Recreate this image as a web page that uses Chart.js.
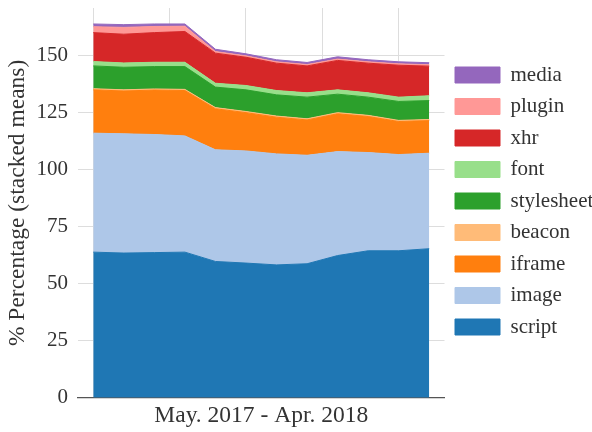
<!DOCTYPE html>
<html>
<head>
<meta charset="utf-8">
<script src="https://cdn.jsdelivr.net/npm/chart.js"></script>
<style>
  body { margin: 0; background: #fff; }
  #wrap { width: 592px; height: 432px; }
</style>
</head>
<body>
<div id="wrap"><canvas id="share_chart" width="592" height="432"></canvas></div>
<script>
// months, May 2017 - Apr 2018
var months = ['May 2017','Jun 2017','Jul 2017','Aug 2017','Sep 2017','Oct 2017',
              'Nov 2017','Dec 2017','Jan 2018','Feb 2018','Mar 2018','Apr 2018'];

// stacked means per resource type (%)
var script     = [63.9, 63.5, 63.7, 63.9, 59.8, 59.1, 58.3, 58.8, 62.4, 64.5, 64.5, 65.4];
var image      = [52.2, 52.3, 51.8, 51.0, 49.0, 49.2, 48.7, 47.6, 45.6, 43.1, 42.2, 41.9];
var iframe     = [19.0, 18.8, 19.5, 19.9, 18.0, 16.8, 16.1, 15.5, 16.6, 15.8, 14.5, 14.3];
var beacon     = [0.5, 0.5, 0.5, 0.5, 0.5, 0.5, 0.5, 0.5, 0.5, 0.5, 0.5, 0.5];
var stylesheet = [10.0, 9.9, 9.8, 10.0, 9.0, 9.5, 9.3, 9.5, 8.1, 8.0, 8.3, 8.3];
var font       = [1.9, 1.9, 1.9, 1.9, 1.7, 1.9, 1.9, 1.9, 1.9, 1.9, 1.9, 2.1];
var xhr        = [12.7, 12.6, 13.0, 13.5, 13.2, 12.4, 12.0, 11.8, 12.9, 13.0, 14.0, 13.0];
var plugin     = [2.6, 3.0, 2.7, 2.3, 0.7, 0.6, 0.6, 0.6, 0.6, 0.6, 0.6, 0.6];
var media      = [1.2, 1.2, 1.1, 1.0, 1.0, 0.9, 0.9, 0.9, 1.0, 0.9, 0.9, 0.9];

var yTicks = [0, 25, 50, 75, 100, 125, 150];
var xGrid  = [0, 2.5, 5, 7.5, 10];

var series = [
    ['script', script, '#1f77b4'],
    ['image', image, '#aec7e8'],
    ['iframe', iframe, '#ff7f0e'],
    ['beacon', beacon, '#ffbb78'],
    ['stylesheet', stylesheet, '#2ca02c'],
    ['font', font, '#98df8a'],
    ['xhr', xhr, '#d62728'],
    ['plugin', plugin, '#ff9896'],
    ['media', media, '#9467bd']
];

var serif = "'Liberation Serif', 'Times New Roman', serif";

var datasets = series.map(function (s, k) {
    return {
        label: s[0],
        data: s[1].map(function (v, i) { return {x: i, y: v}; }),
        backgroundColor: s[2],
        borderColor: s[2],
        borderWidth: 1,
        pointRadius: 0,
        tension: 0,
        fill: k == 0 ? 'origin' : '-1'
    };
});

var ctx = document.getElementById('share_chart').getContext('2d');
var shareChart = new Chart(ctx, {
    type: 'line',
    data: { datasets: datasets },
    options: {
        responsive: false,
        animation: false,
        layout: { padding: { left: 2, top: 8, right: 0, bottom: 0 } },
        plugins: {
            tooltip: { enabled: false },
            legend: {
                position: 'right',
                align: 'start',
                reverse: true,
                title: { display: true, text: ' ', font: { size: 10 }, padding: { top: 17, bottom: 17 } },
                labels: {
                    boxWidth: 45,
                    boxHeight: 16,
                    padding: 10.5,
                    color: '#333',
                    font: { family: serif, size: 21 }
                }
            }
        },
        scales: {
            x: {
                type: 'linear',
                min: -0.5,
                max: 11.5,
                afterBuildTicks: function (axis) {
                    axis.ticks = xGrid.map(function (v) { return {value: v}; });
                },
                afterFit: function (scale) {
                    scale.paddingLeft = 0;
                    scale.paddingRight = 0;
                },
                ticks: { display: false },
                grid: { color: '#dddddd', drawTicks: false },
                border: { display: true, color: '#555', width: 1.2 },
                title: {
                    display: true,
                    text: 'May. 2017 - Apr. 2018',
                    color: '#333',
                    font: { family: serif, size: 23.5 },
                    padding: { top: 4, bottom: 2 }
                }
            },
            y: {
                stacked: true,
                min: 0,
                max: 171,
                afterBuildTicks: function (axis) {
                    axis.ticks = yTicks.map(function (v) { return {value: v}; });
                },
                afterFit: function (scale) {
                    scale.width = 76;
                    scale.paddingTop = 0;
                    scale.paddingBottom = 0;
                },
                ticks: { padding: 10, color: '#333', font: { family: serif, size: 21 } },
                grid: { color: '#dddddd', drawTicks: false },
                border: { display: false },
                title: {
                    display: true,
                    text: '% Percentage (stacked means)',
                    color: '#333',
                    font: { family: serif, size: 23.5 },
                    padding: { top: 2, bottom: 2 }
                }
            }
        }
    }
});
</script>
</body>
</html>
